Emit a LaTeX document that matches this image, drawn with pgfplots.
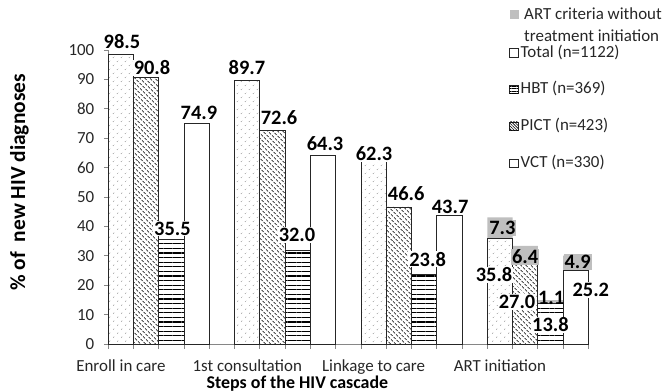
\documentclass[border=0pt]{standalone}
\usepackage{pgfplots}
\pgfplotsset{compat=1.18}
\usepackage{fontspec}
\setmainfont{Carlito}
\usetikzlibrary{patterns.meta}
\definecolor{artgray}{HTML}{BFBFBF}
\definecolor{axgray}{HTML}{868686}
\definecolor{txt}{HTML}{262626}
\tikzset{
  pdots/.style={pattern={Dots[distance=6bp, angle=45, radius=0.55bp]}, pattern color=black!70},
  pdiag/.style={pattern={Lines[angle=-45, distance=3.6bp, line width=0.8bp]}},
  phor/.style={pattern={Lines[angle=0, distance=4.6bp, line width=1.1bp]}},
  lab/.style={font=\bfseries\fontsize{20.5}{22}\selectfont, inner sep=1pt, text=black},
}
\begin{document}
\begin{tikzpicture}
\path[use as bounding box] (-108.3bp,-47bp) rectangle (554.7bp,344bp);
\begin{axis}[
  scale only axis, width=480bp, height=294bp,
  xmin=-0.5, xmax=18.5, ymin=0, ymax=100,
  clip=false,
  axis x line*=bottom, axis y line*=left,
  axis line style={-, draw=axgray, line width=0.8bp},
  tick style={draw=axgray, line width=0.8bp},
  tick align=outside, major tick length=4.5bp,
  xtick={-0.5,0.5,...,18.5}, xticklabels={},
  extra x ticks={0,5,10,15},
  extra x tick labels={Enroll in care,1st consultation,Linkage to care,ART initiation},
  extra x tick style={major tick length=0pt, tick style={draw=none}, xticklabel style={anchor=base, yshift=-27bp}},
  ytick={0,10,...,100},
  /pgf/number format/assume math mode=true,
  ticklabel style={font=\fontsize{17}{19}\selectfont, text=txt},
  yticklabel style={xshift=-6bp},
  xlabel={Steps of the HIV cascade},
  ylabel={\%\ of\ \ new HIV diagnoses},
  every axis x label/.style={at={(axis description cs:0.394,-0.1497)}, anchor=base, inner sep=0pt, font=\bfseries\fontsize{18}{20}\selectfont},
  every axis y label/.style={at={(axis description cs:-0.1735,0.55)}, anchor=base, rotate=90, font=\bfseries\fontsize{21.5}{23}\selectfont},
]
% grey part: ART criteria without treatment initiation (drawn as full height behind)
\addplot[ybar, bar width=1, bar shift=0pt, draw=none, fill=artgray] coordinates {(15,43.1) (16,33.4) (17,14.9) (18,30.1)};
% Total
\addplot[ybar, bar width=1, bar shift=0pt, draw=black!85, line width=0.8bp, fill=white, postaction={pdots}] coordinates {(0,98.5) (5,89.7) (10,62.3) (15,35.8)};
% PICT
\addplot[ybar, bar width=1, bar shift=0pt, draw=black!85, line width=0.8bp, fill=white, postaction={pdiag}] coordinates {(1,90.8) (6,72.6) (11,46.6) (16,27.0)};
% HBT
\addplot[ybar, bar width=1, bar shift=0pt, draw=black!85, line width=0.8bp, fill=white, postaction={phor}] coordinates {(2,35.5) (7,32.0) (12,23.8) (17,13.8)};
% VCT
\addplot[ybar, bar width=1, bar shift=0pt, draw=black!85, line width=0.8bp, fill=white] coordinates {(3,74.9) (8,64.3) (13,43.7) (18,25.2)};
% labels
\node[lab, fill=white] at (axis cs:0.04,103) {98.5};
\node[lab, fill=white] at (axis cs:1.23,94.0) {90.8};
\node[lab, fill=white] at (axis cs:3.09,78.6) {74.9};
\node[lab, fill=white] at (axis cs:4.99,94.0) {89.7};
\node[lab, fill=white] at (axis cs:6.26,76.9) {72.6};
\node[lab, fill=white] at (axis cs:8.08,68) {64.3};
\node[lab, fill=white] at (axis cs:10.02,64.6) {62.3};
\node[lab, fill=white] at (axis cs:11.29,51) {46.6};
\node[lab, fill=white] at (axis cs:13.03,46.8) {43.7};
\node[lab, fill=white] at (axis cs:2.04,39.3) {35.5};
\node[lab, fill=white] at (axis cs:6.97,37) {32.0};
\node[lab, fill=white] at (axis cs:12.14,28.8) {23.8};
\node[lab, fill=artgray, minimum width=25bp] at (axis cs:15.1,39.4) {7.3};
\node[lab, fill=artgray, minimum width=25bp] at (axis cs:16.0,29.6) {6.4};
\node[lab, fill=artgray, minimum width=25bp] at (axis cs:18.08,27.9) {4.9};
\node[lab, fill=white] at (axis cs:14.77,23.5) {35.8};
\node[lab, fill=white] at (axis cs:15.68,14.3) {27.0};
\node[lab, fill=white] at (axis cs:17.0,6.5) {13.8};
\node[lab] at (axis cs:17.03,15.8) {1.1};
\node[lab, fill=white] at (axis cs:18.6,18.4) {25.2};
\end{axis}
% legend
\begin{scope}[every node/.style={font=\fontsize{17}{19}\selectfont, text=txt, inner sep=0pt, anchor=base west}]
\fill[artgray] (401.2bp,324.5bp) rectangle ++(9bp,9bp);
\node at (415.7bp,324bp) {ART criteria without};
\node at (415.7bp,302.5bp) {treatment initiation};
\draw[black!85, line width=0.7bp, fill=white] (401.2bp,287bp) rectangle ++(8.5bp,8.5bp);
\node at (412.2bp,286.5bp) {Total (n=1122)};
\draw[black!85, line width=0.7bp, fill=white, postaction={pattern={Lines[angle=0, distance=2.5bp, line width=0.8bp]}}] (401.2bp,250.5bp) rectangle ++(8.5bp,8.5bp);
\node at (412.2bp,250bp) {HBT (n=369)};
\draw[black!85, line width=0.7bp, fill=white, postaction={pattern={Lines[angle=-45, distance=2bp, line width=0.6bp]}}] (401.2bp,213.5bp) rectangle ++(8.5bp,8.5bp);
\node at (412.2bp,213bp) {PICT (n=423)};
\draw[black!85, line width=0.7bp, fill=white] (401.2bp,176.5bp) rectangle ++(8.5bp,8.5bp);
\node at (412.2bp,176bp) {VCT (n=330)};
\end{scope}
\end{tikzpicture}
\end{document}
